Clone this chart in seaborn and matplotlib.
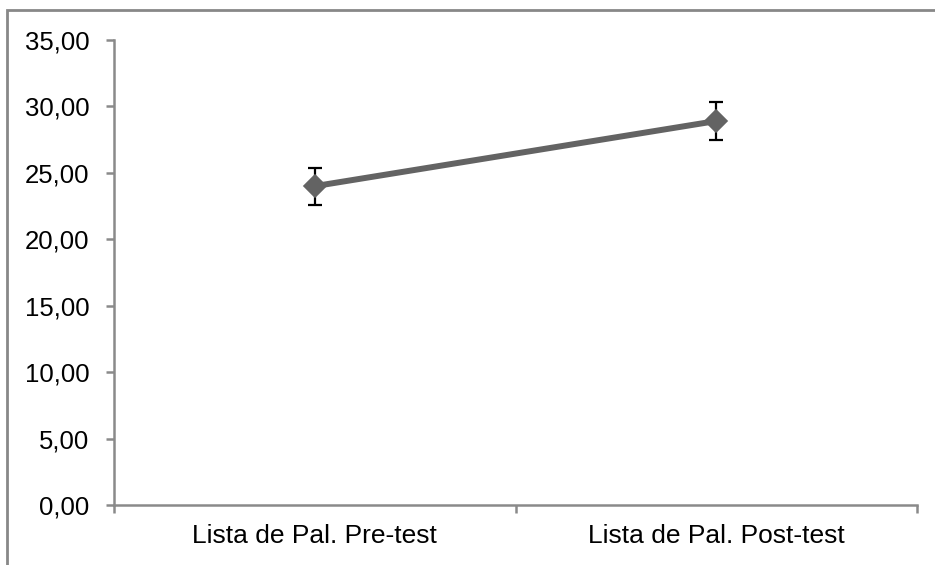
import matplotlib
matplotlib.use("Agg")
import matplotlib.pyplot as plt
from matplotlib.ticker import FuncFormatter, FixedLocator
from matplotlib.patches import Rectangle
import seaborn as sns
import pandas as pd

categories = ["Lista de Pal. Pre-test", "Lista de Pal. Post-test"]
means = [24.0, 28.9]
errors = [1.4, 1.4]
y_ticks = [0, 5, 10, 15, 20, 25, 30, 35]

sns.set_theme(style="white")
plt.rcParams['font.family'] = ['Liberation Sans', 'DejaVu Sans']

fig = plt.figure(figsize=(9.35, 5.65), dpi=100)
ax = fig.add_axes([114/935, 1-505/565, (917-114)/935, (505-40)/565])

df = pd.DataFrame({"cat": categories, "val": means})
ax.errorbar(range(len(categories)), means, yerr=errors, fmt='none',
            ecolor='black', elinewidth=1.6, capsize=5, capthick=1.6, zorder=2)
sns.pointplot(data=df, x="cat", y="val", ax=ax, color="#636363",
              markers="D", errorbar=None, linewidth=4.3, markersize=9.5,
              zorder=3)

ax.set_xlim(-0.5, 1.5)
ax.set_ylim(0, 35)
ax.set_yticks(y_ticks)
ax.yaxis.set_major_formatter(FuncFormatter(lambda v, p: f"{v:.2f}".replace(".", ",")))
ax.set_xlabel("")
ax.set_ylabel("")

for s in ["top", "right"]:
    ax.spines[s].set_visible(False)
for s in ["left", "bottom"]:
    ax.spines[s].set_color("#8a8a8a")
    ax.spines[s].set_linewidth(1.8)

ax.tick_params(axis='y', which='major', direction='out', length=5.8, width=1.8,
               color='#8a8a8a', left=True, labelsize=18.5, pad=12, labelcolor='black')
ax.tick_params(axis='x', which='major', length=0, labelsize=19, pad=14, labelcolor='black')
ax.xaxis.set_minor_locator(FixedLocator([-0.5, 0.5, 1.5]))
ax.tick_params(axis='x', which='minor', direction='out', length=5.8, width=1.8,
               color='#8a8a8a', bottom=True)

# chart border (top & left visible)
fig.add_artist(Rectangle((7/935, -0.05), 1.2, 1-10/565+0.05, transform=fig.transFigure,
                         fill=False, edgecolor='#888888', linewidth=2))

fig.savefig("out.png", dpi=100)
